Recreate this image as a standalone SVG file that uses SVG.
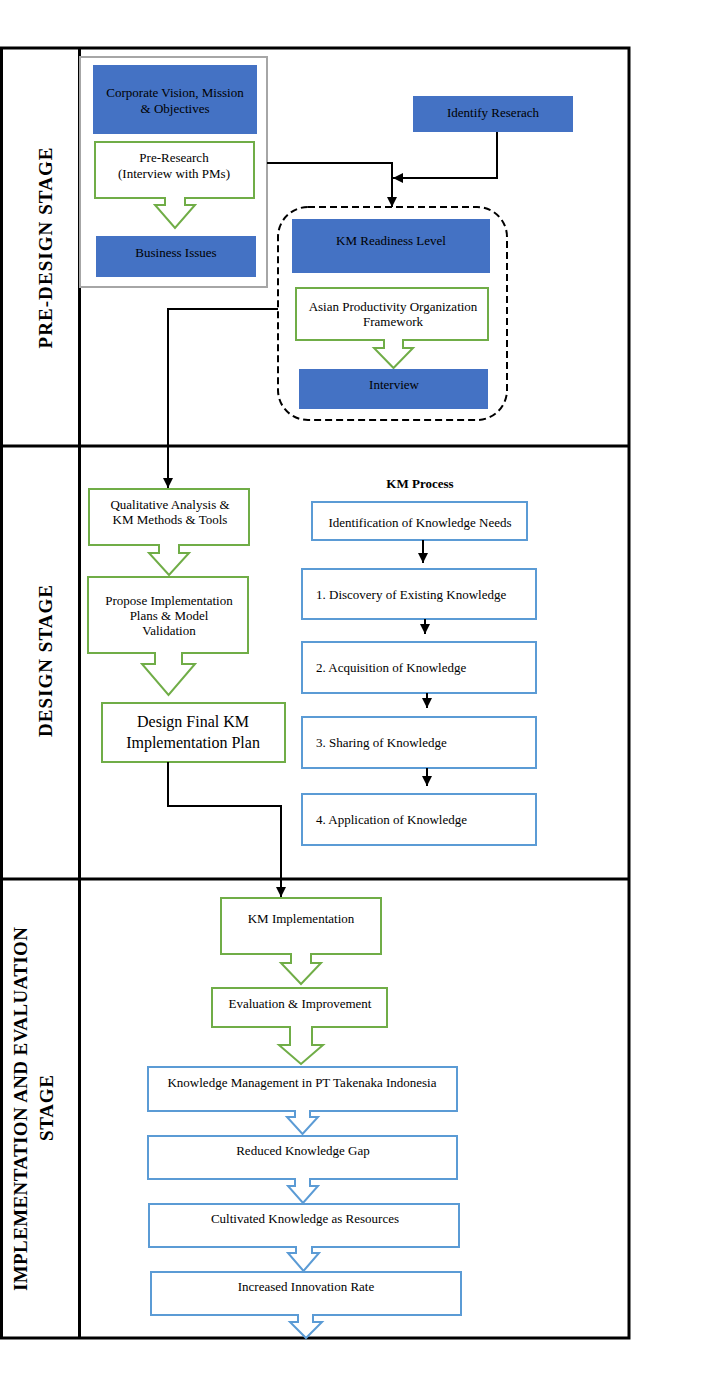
<svg xmlns="http://www.w3.org/2000/svg" width="725" height="1379" viewBox="0 0 725 1379">
<style>
text{font-family:"Liberation Serif","Times New Roman",serif;font-size:13px;fill:#000}
.c{text-anchor:middle}
.stage{font-size:19px;font-weight:bold;text-anchor:middle}
.b{font-weight:bold}
.big{font-size:16px}
.frame{fill:none;stroke:#000;stroke-width:3}
.fill{fill:#4472c4}
.green{fill:#fff;stroke:#70ad47;stroke-width:2}
.blue{fill:#fff;stroke:#5b9bd5;stroke-width:2}
.gray{fill:#fff;stroke:#a6a6a6;stroke-width:2}
.con{fill:none;stroke:#000;stroke-width:2}
</style>
<defs>
<marker id="ah" markerUnits="userSpaceOnUse" markerWidth="10" markerHeight="10" refX="10" refY="5" orient="auto">
<path d="M0,0 L10,5 L0,10 z" fill="#000"/>
</marker>
</defs>
<rect width="725" height="1379" fill="#fff"/>
<g id="frame">
<rect class="frame" x="1.5" y="48" width="627.5" height="1290"/>
<line class="frame" x1="79.5" y1="48" x2="79.5" y2="1338"/>
<line class="frame" x1="1.5" y1="446" x2="629" y2="446"/>
<line class="frame" x1="1.5" y1="879" x2="629" y2="879"/>
<text class="stage" transform="translate(52,248) rotate(-90)" textLength="201" lengthAdjust="spacing">PRE-DESIGN STAGE</text>
<text class="stage" transform="translate(52,661) rotate(-90)" textLength="152" lengthAdjust="spacing">DESIGN STAGE</text>
<text class="stage" transform="translate(27,1109) rotate(-90)" textLength="364" lengthAdjust="spacing">IMPLEMENTATION AND EVALUATION</text>
<text class="stage" transform="translate(53,1108) rotate(-90)" textLength="66" lengthAdjust="spacing">STAGE</text>
</g>
<g id="predesign-group">
<rect class="gray" x="80" y="57" width="187" height="230"/>
</g>
<g id="corporate-vision">
<rect class="fill" x="93" y="65" width="164" height="69"/>
<text class="c" x="175" y="97">Corporate Vision, Mission</text>
<text class="c" x="175" y="113">&amp; Objectives</text>
</g>
<g id="pre-research">
<path class="green" d="M95,142 H254 V198 H185 V205 H195 L175,228 L155,205 H165 V198 H95 Z"/>
<text class="c" x="174" y="162">Pre-Research</text>
<text class="c" x="174" y="178">(Interview with PMs)</text>
</g>
<g id="business-issues">
<rect class="fill" x="96" y="236" width="160" height="41"/>
<text class="c" x="176" y="257">Business Issues</text>
</g>
<g id="identify-research">
<rect class="fill" x="413" y="96" width="160" height="36"/>
<text class="c" x="493" y="117">Identify Reserach</text>
</g>
<g id="readiness-group">
<rect x="278" y="207" width="229" height="213" rx="30" fill="none" stroke="#000" stroke-width="2" stroke-dasharray="7 4"/>
</g>
<g id="km-readiness">
<rect class="fill" x="292" y="219" width="198" height="54"/>
<text class="c" x="391" y="245">KM Readiness Level</text>
</g>
<g id="apo-framework">
<path class="green" d="M296,288 H488 V340 H403 V348 H413 L393.5,368 L374,348 H384 V340 H296 Z"/>
<text class="c" x="393" y="311">Asian Productivity Organization</text>
<text class="c" x="393" y="326">Framework</text>
</g>
<g id="interview">
<rect class="fill" x="299" y="369" width="189" height="40"/>
<text class="c" x="394" y="389">Interview</text>
</g>
<g id="qualitative">
<path class="green" d="M89,489 H249 V545 H179 V553 H189 L169,575 L149,553 H159 V545 H89 Z"/>
<text class="c" x="170" y="509">Qualitative Analysis &amp;</text>
<text class="c" x="170" y="524">KM Methods &amp; Tools</text>
</g>
<g id="propose">
<path class="green" d="M88,577 H248 V653 H182 V664 H195 L168.5,695 L142,664 H155 V653 H88 Z"/>
<text class="c" x="169" y="605">Propose Implementation</text>
<text class="c" x="169" y="620">Plans &amp; Model</text>
<text class="c" x="169" y="635">Validation</text>
</g>
<g id="design-final">
<rect class="green" x="102" y="703" width="183" height="59"/>
<text class="c big" x="193" y="727">Design Final KM</text>
<text class="c big" x="193" y="748">Implementation Plan</text>
</g>
<g id="km-process-title">
<text class="c b" x="420" y="488">KM Process</text>
</g>
<g id="identification">
<rect class="blue" x="312" y="502" width="215" height="38"/>
<text class="c" x="420" y="527">Identification of Knowledge Needs</text>
</g>
<g id="discovery">
<rect class="blue" x="302" y="569" width="234" height="50"/>
<text x="316" y="599">1. Discovery of Existing Knowledge</text>
</g>
<g id="acquisition">
<rect class="blue" x="302" y="642" width="234" height="51"/>
<text x="316" y="672">2. Acquisition of Knowledge</text>
</g>
<g id="sharing">
<rect class="blue" x="302" y="717" width="234" height="51"/>
<text x="316" y="747">3. Sharing of Knowledge</text>
</g>
<g id="application">
<rect class="blue" x="302" y="794" width="234" height="51"/>
<text x="316" y="824">4. Application of Knowledge</text>
</g>
<g id="km-implementation">
<path class="green" d="M221,898 H381 V954 H311 V963 H321 L301,984 L281,963 H291 V954 H221 Z"/>
<text class="c" x="301" y="923">KM Implementation</text>
</g>
<g id="evaluation">
<path class="green" d="M212,988 H387 V1027 H312 V1045 H323 L301,1064 L279,1045 H290 V1027 H212 Z"/>
<text class="c" x="300" y="1008">Evaluation &amp; Improvement</text>
</g>
<g id="km-takenaka">
<path class="blue" d="M148,1067 H457 V1111 H310 V1117 H318 L302.5,1134 L287,1117 H295 V1111 H148 Z"/>
<text class="c" x="302" y="1087">Knowledge Management in PT Takenaka Indonesia</text>
</g>
<g id="reduced-gap">
<path class="blue" d="M148,1136 H457 V1179 H310 V1186 H318 L303,1203 L288,1186 H295 V1179 H148 Z"/>
<text class="c" x="303" y="1155">Reduced Knowledge Gap</text>
</g>
<g id="cultivated">
<path class="blue" d="M149,1204 H459 V1247 H312 V1253 H319 L303.5,1271 L288,1253 H296 V1247 H149 Z"/>
<text class="c" x="305" y="1223">Cultivated Knowledge as Resources</text>
</g>
<g id="increased">
<path class="blue" d="M151,1272 H461 V1315 H313 V1322 H322 L306,1338 L290,1322 H298 V1315 H151 Z"/>
<text class="c" x="306" y="1291">Increased Innovation Rate</text>
</g>
<g id="connectors">
<path class="con" d="M267,163 H392 V207" marker-end="url(#ah)"/>
<path class="con" d="M497,132 V178 H393" marker-end="url(#ah)"/>
<path class="con" d="M278,309 H168 V488" marker-end="url(#ah)"/>
<path class="con" d="M168,762 V806 H281 V897" marker-end="url(#ah)"/>
<path class="con" d="M423,540 V563" marker-end="url(#ah)"/>
<path class="con" d="M425,619 V634" marker-end="url(#ah)"/>
<path class="con" d="M427,693 V708" marker-end="url(#ah)"/>
<path class="con" d="M427,768 V786" marker-end="url(#ah)"/>
</g>
</svg>
